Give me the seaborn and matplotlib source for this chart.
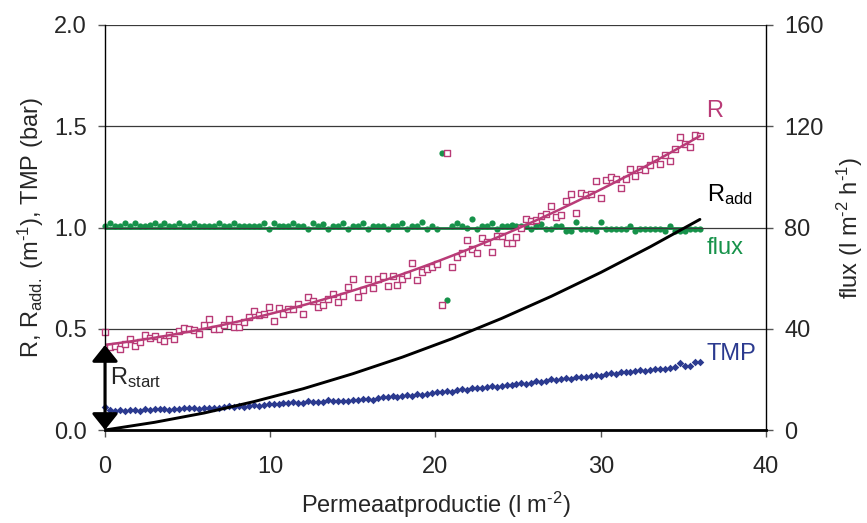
import numpy as np
import matplotlib
matplotlib.use("Agg")
import matplotlib.pyplot as plt
import seaborn as sns

# ---- data -------------------------------------------------------------
# cumulative permeate production (l m-2), one sample every 0.3 l m-2
production = np.linspace(0, 36, 121)

# total resistance R
resistance = [
    0.483, 0.410, 0.414, 0.400, 0.426, 0.447, 0.417, 0.434, 0.467, 0.455,
    0.463, 0.447, 0.439, 0.468, 0.447, 0.490, 0.503, 0.500, 0.493, 0.475,
    0.518, 0.546, 0.500, 0.500, 0.521, 0.549, 0.508, 0.508, 0.533, 0.559,
    0.587, 0.566, 0.574, 0.609, 0.540, 0.604, 0.571, 0.600, 0.600, 0.624,
    0.574, 0.658, 0.637, 0.609, 0.619, 0.648, 0.673, 0.632, 0.660, 0.708,
    0.744, 0.658, 0.693, 0.744, 0.703, 0.748, 0.762, 0.713, 0.760, 0.718,
    0.744, 0.767, 0.823, 0.741, 0.782, 0.794, 0.807, 0.822, 0.615, 1.370,
    0.807, 0.855, 0.876, 0.937, 0.893, 0.876, 0.950, 0.929, 0.878, 0.958,
    0.958, 0.922, 0.925, 0.952, 0.996, 1.041, 1.030, 1.038, 1.059, 1.069,
    1.104, 1.054, 1.061, 1.130, 1.163, 1.071, 1.171, 1.160, 1.163, 1.228,
    1.144, 1.233, 1.248, 1.238, 1.195, 1.238, 1.287, 1.253, 1.290, 1.284,
    1.310, 1.338, 1.316, 1.358, 1.328, 1.388, 1.446, 1.412, 1.396, 1.455,
    1.450,
]

# transmembrane pressure (bar)
tmp = [
    0.112, 0.097, 0.092, 0.098, 0.094, 0.100, 0.099, 0.096, 0.102, 0.100,
    0.104, 0.103, 0.103, 0.101, 0.104, 0.106, 0.107, 0.108, 0.107, 0.103,
    0.111, 0.110, 0.109, 0.110, 0.116, 0.118, 0.114, 0.118, 0.114, 0.120,
    0.122, 0.118, 0.122, 0.128, 0.130, 0.126, 0.131, 0.132, 0.136, 0.134,
    0.135, 0.141, 0.138, 0.136, 0.139, 0.146, 0.143, 0.141, 0.145, 0.145,
    0.150, 0.146, 0.152, 0.155, 0.150, 0.158, 0.161, 0.165, 0.168, 0.162,
    0.170, 0.172, 0.170, 0.177, 0.174, 0.180, 0.183, 0.186, 0.189, 0.193,
    0.190, 0.198, 0.202, 0.200, 0.206, 0.209, 0.207, 0.212, 0.216, 0.214,
    0.218, 0.224, 0.221, 0.227, 0.231, 0.229, 0.234, 0.240, 0.236, 0.244,
    0.250, 0.246, 0.253, 0.257, 0.254, 0.260, 0.264, 0.260, 0.266, 0.270,
    0.268, 0.276, 0.281, 0.279, 0.284, 0.288, 0.285, 0.292, 0.295, 0.291,
    0.298, 0.301, 0.299, 0.303, 0.306, 0.310, 0.332, 0.318, 0.318, 0.335,
    0.335,
]

# measured flux (l m-2 h-1)
flux = [
    80.6, 81.7, 80.4, 80.6, 81.7, 80.4, 81.7, 80.6, 80.6, 81.0,
    81.7, 80.4, 81.7, 80.4, 80.4, 81.7, 80.4, 80.6, 81.7, 80.4,
    80.4, 80.4, 80.4, 81.7, 80.4, 80.4, 81.7, 80.4, 80.4, 80.4,
    80.4, 80.4, 81.7, 79.4, 81.7, 80.4, 80.4, 80.4, 81.7, 80.4,
    80.4, 79.4, 81.7, 80.4, 81.2, 79.4, 80.6, 80.6, 81.7, 79.4,
    80.6, 80.6, 81.7, 79.4, 80.6, 80.6, 80.6, 79.4, 80.6, 80.6,
    81.7, 79.4, 80.6, 80.6, 82.0, 79.4, 80.6, 79.4, 109.6, 51.2,
    80.6, 81.7, 80.6, 80.0, 83.2, 79.4, 80.6, 80.6, 81.7, 79.4,
    80.6, 80.6, 80.8, 80.6, 80.6, 80.6, 79.4, 80.6, 81.5, 79.6,
    79.6, 80.6, 80.6, 78.6, 78.6, 82.0, 79.6, 79.6, 79.6, 78.6,
    82.0, 79.6, 79.6, 79.6, 79.6, 79.6, 80.6, 78.6, 79.6, 79.6,
    79.6, 79.6, 79.6, 78.6, 80.6, 78.6, 78.6, 78.6, 79.6, 79.6,
    79.6,
]

# flux set point (l m-2 h-1)
setpoint_x = [0, 36]
setpoint_flux = [80, 80]

# added resistance R_add = R - R_start
radd_x = [0, 3, 6, 9, 12, 15, 18, 21, 24, 27, 30, 33, 36]
radd = [0.0, 0.038, 0.084, 0.140, 0.204, 0.278, 0.360, 0.451, 0.551,
        0.660, 0.778, 0.905, 1.040]

# R_start: resistance at the start of filtration
r_start = 0.42

x_ticks = [0, 10, 20, 30, 40]
y_ticks = [0.0, 0.5, 1.0, 1.5, 2.0]
flux_ticks = [0, 40, 80, 120, 160]

PINK = "#B93B77"
GREEN = "#16924A"
NAVY = "#2B3A8F"

# ---- style ------------------------------------------------------------
sns.set_style("ticks")
plt.rcParams["font.family"] = ["Liberation Sans", "DejaVu Sans"]
plt.rcParams["mathtext.fontset"] = "custom"
plt.rcParams["mathtext.rm"] = "Liberation Sans"
plt.rcParams["mathtext.it"] = "Liberation Sans"
plt.rcParams["mathtext.default"] = "regular"

FS = 17

fig, ax = plt.subplots(figsize=(8.67, 5.23), dpi=100)
fig.subplots_adjust(left=0.1211, right=0.8835, bottom=0.1778, top=0.9522)
ax2 = ax.twinx()
ax.set_zorder(ax2.get_zorder() + 1)
ax.patch.set_visible(False)

# flux on the right-hand axis
sns.lineplot(x=setpoint_x, y=setpoint_flux, ax=ax2, color=GREEN, lw=2.0)
sns.scatterplot(x=production, y=flux, ax=ax2, color=GREEN, marker="o",
                s=20, linewidth=0)
for c in ax2.collections:
    c.set_clip_on(False)

# resistance, added resistance and TMP on the left-hand axis
sns.scatterplot(x=production, y=resistance, ax=ax, marker="s", s=20,
                facecolor="white", edgecolor=PINK, linewidth=1.0)
sns.regplot(x=production, y=resistance, ax=ax, order=2, scatter=False,
            ci=None, truncate=True, line_kws=dict(color=PINK, lw=1.8))
sns.scatterplot(x=production, y=tmp, ax=ax, marker="D", s=15, color=NAVY,
                linewidth=0)
sns.lineplot(x=radd_x, y=radd, ax=ax, color="black", lw=2.1)
for c in ax.collections:
    c.set_clip_on(False)

# R_start arrow
ax.annotate("", xy=(0, 0), xytext=(0, r_start),
            arrowprops=dict(arrowstyle="<|-|>,head_length=1.0,head_width=0.8",
                            color="black", lw=2.2, mutation_scale=10,
                            shrinkA=0, shrinkB=0))
ax.text(0.29, 0.225, r"R$_{start}$", fontsize=FS, ha="left", va="baseline")

# series labels
ax.text(36.4, 1.546, "R", color=PINK, fontsize=FS, va="baseline")
ax.text(36.4, 1.13, r"R$_{add}$", color="black", fontsize=FS, va="baseline")
ax.text(36.4, 0.868, "flux", color=GREEN, fontsize=FS, va="baseline")
ax.text(36.4, 0.348, "TMP", color=NAVY, fontsize=FS, va="baseline")

# axes
ax.set_xlim(0, 40)
ax.set_ylim(0, 2.0)
ax2.set_ylim(0, 160)
ax.set_xticks(x_ticks)
ax.set_yticks(y_ticks)
ax.set_yticklabels([f"{v:.1f}" for v in y_ticks])
ax2.set_yticks(flux_ticks)

ax.yaxis.grid(True, color="#3a3a3a", lw=0.9)
ax.set_axisbelow(True)

for a in (ax, ax2):
    a.spines["top"].set_visible(False)
    for s in a.spines.values():
        s.set_color("black")
        s.set_linewidth(1.0)
ax.spines["right"].set_visible(False)
ax2.spines["left"].set_visible(False)
ax2.spines["bottom"].set_visible(False)
ax.spines["bottom"].set_linewidth(2.0)

ax.tick_params(axis="x", direction="out", length=5, width=1, labelsize=FS,
               pad=14, color="#555555")
ax.tick_params(axis="y", direction="out", length=5, width=1, labelsize=FS,
               pad=8, color="#555555")
ax2.tick_params(axis="y", direction="out", length=5, width=1, labelsize=FS,
                pad=8, color="#555555")

ax.set_xlabel(r"Permeaatproductie (l m$^{\text{-2}}$)", fontsize=FS,
              labelpad=8)
ax.set_ylabel(r"R, R$_{add.}$ (m$^{\text{-1}}$), TMP (bar)", fontsize=FS,
              labelpad=6)
ax2.set_ylabel(r"flux (l m$^{\text{-2}}$ h$^{\text{-1}}$)", fontsize=FS,
               labelpad=8)

fig.savefig("out.png", dpi=100)
